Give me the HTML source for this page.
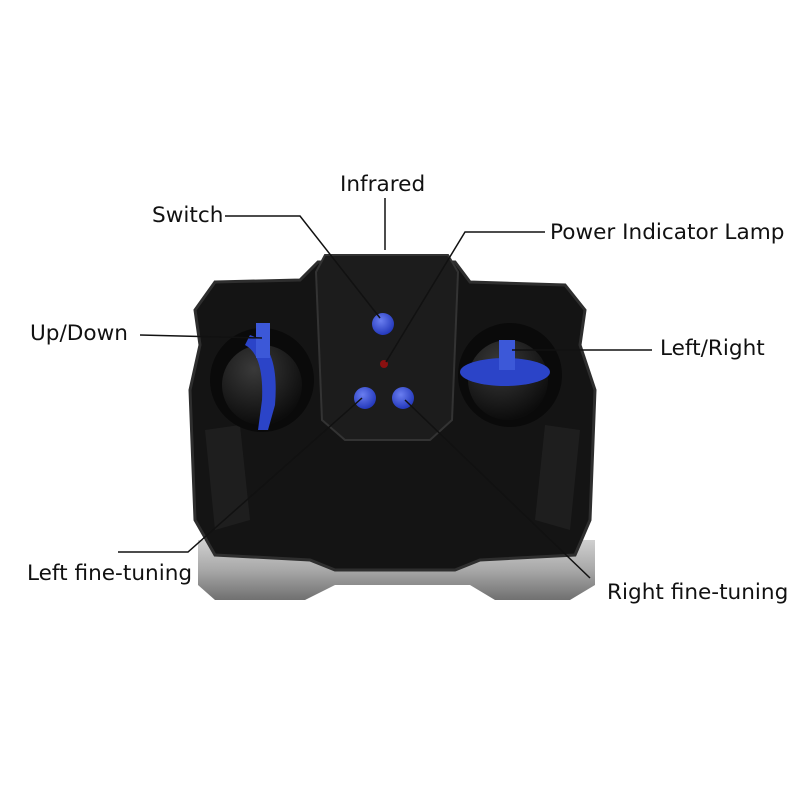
<!DOCTYPE html>
<html><head><style>
html,body{margin:0;padding:0;background:#fff;}
svg{display:block}
text{font-family:"DejaVu Sans",sans-serif;font-size:21.6px;fill:#111}
</style></head><body>
<svg width="800" height="800" viewBox="0 0 800 800">
<defs>
<linearGradient id="silver" x1="0" y1="0" x2="0" y2="1">
<stop offset="0" stop-color="#d0d0d0"/><stop offset="0.5" stop-color="#a8a8a8"/><stop offset="1" stop-color="#707070"/>
</linearGradient>
<radialGradient id="ball" cx="0.4" cy="0.3" r="0.7">
<stop offset="0" stop-color="#3a3a3a"/><stop offset="1" stop-color="#0c0c0c"/>
</radialGradient>
<radialGradient id="btn" cx="0.4" cy="0.35" r="0.7">
<stop offset="0" stop-color="#6a7ef0"/><stop offset="1" stop-color="#1f34b8"/>
</radialGradient>
</defs>
<path d="M198 540 L595 540 L595 585 L570 600 L495 600 L470 585 L335 585 L305 600 L215 600 L198 585 Z" fill="url(#silver)"/>
<path d="M215 282 L300 280 L318 262 L455 262 L470 282 L565 285 L585 310 L580 345 L595 390 L590 520 L575 555 L480 560 L455 570 L335 570 L310 560 L215 555 L195 520 L190 390 L200 345 L195 310 Z" fill="#141414" stroke="#2e2e2e" stroke-width="3"/>
<path d="M325 255 L448 255 L458 272 L452 420 L430 440 L345 440 L322 420 L316 272 Z" fill="#1c1c1c" stroke="#333" stroke-width="2"/>
<path d="M205 430 L240 425 L250 520 L215 530 Z" fill="#1e1e1e"/>
<path d="M580 430 L545 425 L535 520 L570 530 Z" fill="#1e1e1e"/>
<circle cx="262" cy="380" r="52" fill="#0a0a0a"/>
<circle cx="262" cy="385" r="40" fill="url(#ball)"/>
<circle cx="510" cy="375" r="52" fill="#0a0a0a"/>
<circle cx="508" cy="380" r="40" fill="url(#ball)"/>
<path d="M250 335 Q280 345 275 405 L268 430 L258 430 L262 400 Q264 355 245 345 Z" fill="#2b44c8"/>
<rect x="256" y="323" width="14" height="35" fill="#3c58d8"/>
<ellipse cx="505" cy="372" rx="45" ry="14" fill="#2b44c8"/>
<rect x="499" y="340" width="16" height="30" fill="#3c58d8"/>
<circle cx="383" cy="324" r="11" fill="url(#btn)"/>
<circle cx="365" cy="398" r="11" fill="url(#btn)"/>
<circle cx="403" cy="398" r="11" fill="url(#btn)"/>
<circle cx="384" cy="364" r="4" fill="#8a1010"/>
<g stroke="#111" stroke-width="1.5" fill="none">
<polyline points="225,216 300,216 380,318"/>
<line x1="385" y1="198" x2="385" y2="250"/>
<polyline points="545,232 465,232 386,362"/>
<line x1="140" y1="335" x2="262" y2="338"/>
<line x1="652" y1="350" x2="512" y2="350"/>
<polyline points="118,552 188,552 362,398"/>
<line x1="405" y1="400" x2="590" y2="578"/>
</g>
<text x="340" y="191">Infrared</text>
<text x="152" y="222">Switch</text>
<text x="550" y="239">Power Indicator Lamp</text>
<text x="30" y="340">Up/Down</text>
<text x="660" y="355">Left/Right</text>
<text x="27" y="580">Left fine-tuning</text>
<text x="607" y="599">Right fine-tuning</text>
</svg>
</body></html>
